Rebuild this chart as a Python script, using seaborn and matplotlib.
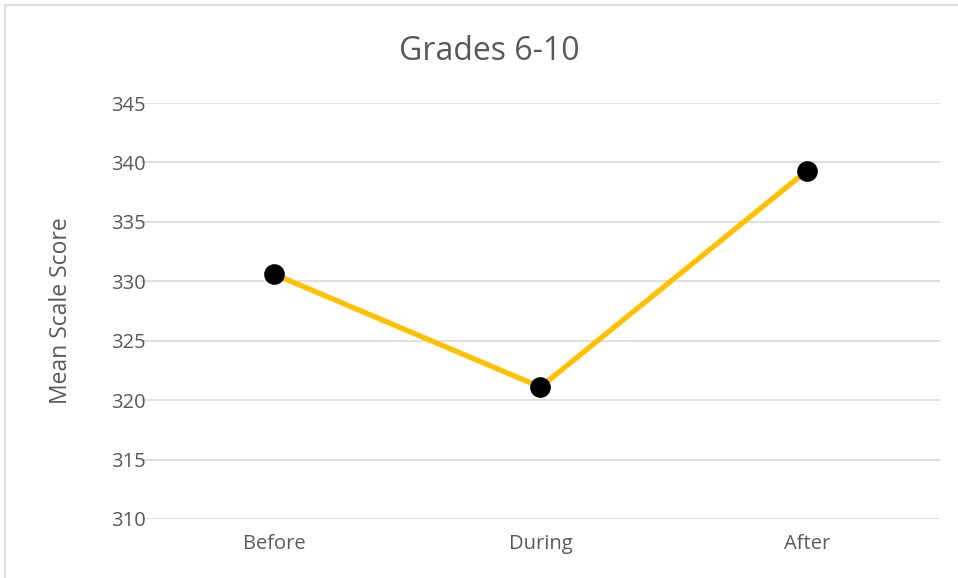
import matplotlib.pyplot as plt
import seaborn as sns
from matplotlib.lines import Line2D

# Data
stages = ["Before", "During", "After"]
scores = [330.6, 321.1, 339.3]
y_ticks = [310, 315, 320, 325, 330, 335, 340, 345]

sns.set_style("white")
plt.rcParams['font.family'] = ['Open Sans', 'DejaVu Sans']

fig = plt.figure(figsize=(9.58, 5.78), dpi=100)
ax = fig.add_axes([141 / 958, 1 - 519 / 578, 799 / 958, 416 / 578])

sns.lineplot(x=stages, y=scores, ax=ax, color="#FFC000", linewidth=3.8, sort=False, zorder=2)
sns.scatterplot(x=stages, y=scores, ax=ax, color="black", s=190, edgecolor="black", zorder=3)

ax.set_xlim(-0.5, len(stages) - 0.5)
ax.set_ylim(min(y_ticks), max(y_ticks))
ax.set_yticks(y_ticks)
ax.yaxis.grid(True, color="#D9D9D9", linewidth=1.2)
ax.set_axisbelow(True)
for s in ax.spines.values():
    s.set_visible(False)
ax.tick_params(axis="both", length=0, labelsize=14.5, labelcolor="#595959")
ax.tick_params(axis="x", pad=11)
ax.tick_params(axis="y", pad=-3.5)
ax.set_xlabel("")
ax.set_ylabel("Mean Scale Score", fontsize=16.5, color="#595959", labelpad=0)
ax.yaxis.set_label_coords(-68 / 799, 0.5)

fig.text(489 / 958, 1 - 51 / 578, "Grades 6-10", ha="center", va="center",
         fontsize=23, color="#595959")

# chart border (top and left edges visible in the reference)
fig.add_artist(Line2D([5 / 958, 1.01], [1 - 5 / 578] * 2, color="#D9D9D9", linewidth=1.2,
                      transform=fig.transFigure))
fig.add_artist(Line2D([5 / 958] * 2, [-0.01, 1 - 5 / 578], color="#D9D9D9", linewidth=1.2,
                      transform=fig.transFigure))

fig.savefig("out.png", dpi=100)
